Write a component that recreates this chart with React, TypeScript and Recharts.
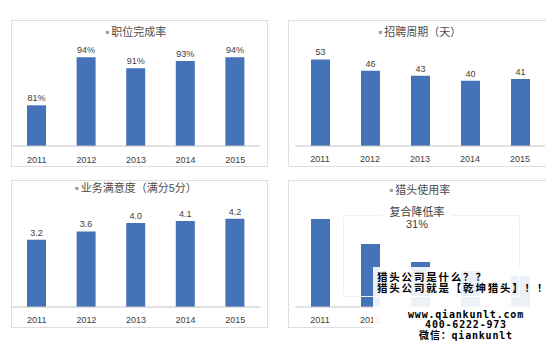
import React from "react";
import { BarChart, Bar, XAxis, YAxis, LabelList } from "recharts";

const years = ["2011", "2012", "2013", "2014", "2015"];
const completionRate = [81, 94, 91, 93, 94];
const recruitCycle = [53, 46, 43, 40, 41];
const satisfaction = [3.2, 3.6, 4.0, 4.1, 4.2];
const headhunterUsage = [44, 31.5, 22.5, 18, 15.5];

const BAR = "#4473b8";
const FONT = "'Liberation Sans', 'Noto Sans CJK SC', sans-serif";

const toRows = (vals: number[]) => years.map((y, i) => ({ year: y, value: vals[i] }));

// year tick; labels under the watermark box are covered in the source picture
const makeTick = (shownCount: number) => (props: any) => {
  const { x, y, payload, index } = props;
  if (index >= shownCount) return <g />;
  return (
    <text
      x={x}
      y={y}
      dy="0.71em"
      textAnchor="middle"
      fontSize={9}
      fill="#404040"
      fontFamily={FONT}
    >
      {payload.value}
    </text>
  );
};

const Panel = ({
  left,
  top,
  width,
  height,
  title,
  rows,
  domain,
  margin,
  axisHeight,
  tickMargin,
  labelFmt,
  rightBorder = true,
  shownTicks = 5,
}: any) => (
  <>
    <div
      style={{
        position: "absolute",
        left,
        top,
        width,
        height,
        boxSizing: "border-box",
        border: "1px solid #dedede",
        borderRight: rightBorder ? "1px solid #dedede" : "none",
      }}
    />
    <div style={{ position: "absolute", left, top }}>
      <BarChart width={width} height={height} data={rows} margin={margin}>
        <YAxis hide domain={domain} />
        <XAxis
          dataKey="year"
          height={axisHeight}
          tickLine={false}
          tickMargin={tickMargin}
          axisLine={{ stroke: "#c4c4c4" }}
          tick={makeTick(shownTicks)}
          interval={0}
        />
        <Bar dataKey="value" fill={BAR} barSize={19} isAnimationActive={false}>
          {labelFmt && (
            <LabelList
              dataKey="value"
              position="top"
              offset={4}
              formatter={labelFmt}
              style={{ fontSize: 9, fill: "#404040", fontFamily: FONT }}
            />
          )}
        </Bar>
      </BarChart>
    </div>
    <div
      style={{
        position: "absolute",
        left: left + margin.left,
        width: width - margin.left - margin.right,
        top: title.y - 8,
        height: 16,
        lineHeight: "16px",
        textAlign: "center",
        fontSize: 11,
        color: "#4d4d4d",
        fontFamily: FONT,
        whiteSpace: "nowrap",
      }}
    >
      <span style={{ fontSize: 6, color: "#9a9a9a", verticalAlign: "2px", marginRight: 2 }}>■</span>
      {title.text}
    </div>
  </>
);

export default function App() {
  return (
    <div
      style={{
        position: "absolute",
        left: 0,
        top: 0,
        width: 558,
        height: 352,
        background: "#fff",
        overflow: "hidden",
        fontFamily: FONT,
      }}
    >
      <Panel
        left={11}
        top={20}
        width={257}
        height={147}
        title={{ text: "职位完成率", y: 32 }}
        rows={toRows(completionRate)}
        domain={[70, 100]}
        margin={{ top: 15, right: 8, left: 1, bottom: 0 }}
        axisHeight={21}
        tickMargin={5}
        labelFmt={(v: number) => `${v}%`}
      />
      <Panel
        left={288}
        top={20}
        width={258}
        height={147}
        title={{ text: "招聘周期（天）", y: 32 }}
        rows={toRows(recruitCycle)}
        domain={[0, 60]}
        margin={{ top: 28, right: 1, left: 7, bottom: 0 }}
        axisHeight={21}
        tickMargin={4}
        labelFmt={(v: number) => `${v}`}
        rightBorder={false}
      />
      <Panel
        left={11}
        top={180}
        width={257}
        height={148}
        title={{ text: "业务满意度（满分5分）", y: 188 }}
        rows={toRows(satisfaction)}
        domain={[0, 5]}
        margin={{ top: 22, right: 8, left: 1, bottom: 0 }}
        axisHeight={21}
        tickMargin={4}
        labelFmt={(v: number) => v.toFixed(1)}
      />
      <Panel
        left={288}
        top={180}
        width={258}
        height={148}
        title={{ text: "猎头使用率", y: 190 }}
        rows={toRows(headhunterUsage)}
        domain={[0, 50]}
        margin={{ top: 27, right: 1, left: 7, bottom: 0 }}
        axisHeight={21}
        tickMargin={4}
        rightBorder={false}
        shownTicks={2}
      />

      {/* annotation in last panel */}
      <div
        style={{
          position: "absolute",
          left: 343,
          top: 215,
          width: 175,
          height: 80,
          border: "1px solid #f0f0f0",
          borderRadius: 3,
        }}
      />
      <div
        style={{
          position: "absolute",
          left: 382,
          top: 206,
          width: 70,
          background: "#fff",
          textAlign: "center",
          fontSize: 11,
          lineHeight: "12px",
          color: "#404040",
        }}
      >
        <div>复合降低率</div>
        <div>31%</div>
      </div>

      {/* watermark overlay */}
      <div
        style={{
          position: "absolute",
          left: 373,
          top: 267,
          width: 185,
          height: 85,
          background: "rgba(255,255,255,0.9)",
        }}
      />
      <div
        style={{
          position: "absolute",
          left: 377,
          top: 271,
          fontFamily: "'Noto Sans CJK SC', sans-serif",
          fontWeight: 700,
          fontSize: 10.5,
          lineHeight: "11px",
          letterSpacing: 1.8,
          color: "#000",
          whiteSpace: "nowrap",
        }}
      >
        <div>猎头公司是什么？？</div>
        <div>猎头公司就是【乾坤猎头】！！</div>
      </div>
      <div
        style={{
          position: "absolute",
          left: 404,
          top: 310,
          width: 124,
          textAlign: "center",
          fontFamily: "'DejaVu Sans Mono', 'Noto Sans CJK SC', monospace",
          fontWeight: 700,
          fontSize: 10,
          letterSpacing: 0.8,
          lineHeight: "10px",
          color: "#000",
          whiteSpace: "nowrap",
        }}
      >
        <div>www.qiankunlt.com</div>
        <div>400-6222-973</div>
        <div>
          <span style={{ fontFamily: "'Noto Sans CJK SC', sans-serif" }}>微信：</span>qiankunlt
        </div>
      </div>
    </div>
  );
}
